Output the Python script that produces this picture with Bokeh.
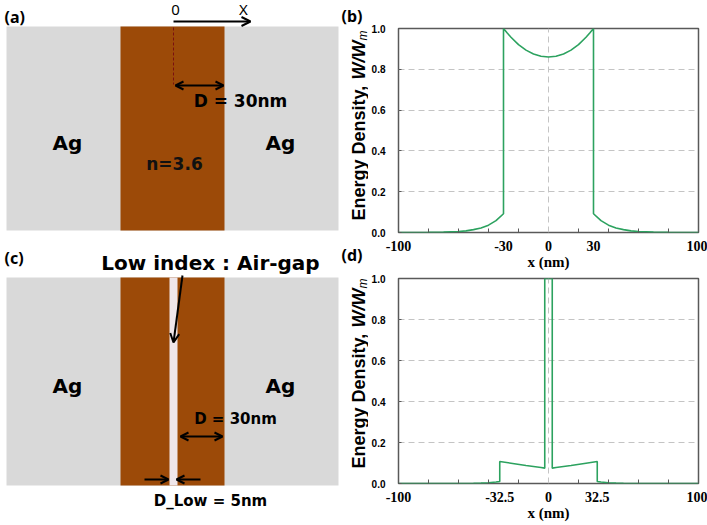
import math
from bokeh.plotting import figure
from bokeh.models import Range1d, Label, Arrow, OpenHead, FixedTicker
from bokeh.layouts import row, column
from bokeh.embed import file_html
from bokeh.resources import INLINE

# ---------------- data ----------------
x_b = [-100, -80, -70, -60, -55, -50, -45, -40, -35, -30, -30, -27.5, -25, -20, -15, -10, -5,
       0, 5, 10, 15, 20, 25, 27.5, 30, 30, 35, 40, 45, 50, 55, 60, 70, 80, 100]
y_b = [0.0, 0.001, 0.002, 0.005, 0.008, 0.014, 0.022, 0.036, 0.058, 0.092, 1.0, 0.978, 0.957, 0.921, 0.894, 0.875, 0.864,
       0.86, 0.864, 0.875, 0.894, 0.921, 0.957, 0.978, 1.0, 0.092, 0.058, 0.036, 0.022, 0.014, 0.008, 0.005, 0.002, 0.001, 0.0]

x_d = [-100, -60, -50, -45, -40, -35, -32.5, -32.5, -25, -15, -5, -2.5, -2.5, 0, 2.5, 2.5,
       5, 15, 25, 32.5, 32.5, 35, 40, 45, 50, 60, 100]
y_d = [0.0, 0.0, 0.001, 0.002, 0.004, 0.007, 0.010, 0.107, 0.099, 0.088, 0.078, 0.075, 1.0, 1.0, 1.0, 0.075,
       0.078, 0.088, 0.099, 0.107, 0.010, 0.007, 0.004, 0.002, 0.001, 0.0, 0.0]

b_xticks = [-100, -30, 0, 30, 100]
b_xlabels = ["-100", "-30", "0", "30", "100"]
d_xticks = [-100, -32.5, 0, 32.5, 100]
d_xlabels = ["-100", "-32.5", "0", "32.5", "100"]
minor_xticks = [-80, -60, -40, -20, 20, 40, 60, 80]
y_ticks = [0.0, 0.2, 0.4, 0.6, 0.8, 1.0]
y_labels = ["0.0", "0.2", "0.4", "0.6", "0.8", "1.0"]

GREEN = "#2ca25f"
AG = "#d9d9d9"
BROWN = "#9c4a08"
GAP = "#efe6ea"
FRAME = "#595959"
SCH_FONT = "DejaVu Sans"
LBL_FONT = "Noto Sans"
LEFT_W = 368
TOP_H = 242


# ---------------- canvas helpers ----------------
def canvas(x0, width, y0, height):
    p = figure(width=width, height=height, x_range=Range1d(x0, x0 + width), y_range=Range1d(y0 + height, y0),
               output_backend="svg", toolbar_location=None, min_border=0,
               x_axis_location=None, y_axis_location=None, outline_line_color=None)
    p.grid.visible = False
    return p


def txt(p, x, y, s, size, font=SCH_FONT, style="bold", color="black", align="center",
        angle=0.0, baseline="middle"):
    p.add_layout(Label(x=x, y=y, text=s, text_font=font, text_font_style=style,
                       text_font_size=f"{size}px", text_color=color, angle=angle,
                       text_align=align, text_baseline=baseline))


def arrow(p, x0, y0, x1, y1, both=False, size=9):
    p.add_layout(Arrow(x_start=x0, y_start=y0, x_end=x1, y_end=y1, line_width=2, line_color="black",
                       end=OpenHead(size=size, line_width=2, line_color="black"),
                       start=OpenHead(size=size, line_width=2, line_color="black") if both else None))


def ylabel(p, base_x, start_y):
    # rotated axis title in pieces: "Energy Density, " + italic "W/W" + subscript "m"
    pieces = [("Energy Density, ", "bold", 18, 0, 141.0),
              ("W/W", "bold italic", 18, 0, 39.0),
              ("m", "italic", 12, 4, 10.0)]
    y = start_y
    for s, st, sz, off, w in pieces:
        txt(p, base_x + off, y, s, sz, font="Liberation Sans", style=st,
            align="left", baseline="alphabetic", angle=math.pi / 2)
        y -= w


# ---------------- (a) + labels of (b) ----------------
a = canvas(0, LEFT_W, 0, TOP_H)
a.quad(left=6, right=338, top=26, bottom=230, fill_color=AG, line_color=None)
a.quad(left=120, right=224, top=26, bottom=230, fill_color=BROWN, line_color=None)
a.segment(x0=173, y0=27, x1=173, y1=84, line_color="#7a1010", line_dash="3 2", line_width=1)
arrow(a, 173, 21, 250, 21)
arrow(a, 175, 85, 223, 85, both=True, size=8)
txt(a, 4, 16, "(a)", 16, font=LBL_FONT, align="left")
txt(a, 175, 9, "0", 15, font=LBL_FONT, style="normal")
txt(a, 243, 8, "X", 15, font=LBL_FONT, style="normal")
txt(a, 240, 100, "D = 30nm", 17)
txt(a, 67, 142, "Ag", 20)
txt(a, 280, 142, "Ag", 20)
txt(a, 174, 163, "n=3.6", 17, color="#111111")
txt(a, 341, 15, "(b)", 16, font=LBL_FONT, align="left")
ylabel(a, 358, 220)

# ---------------- (c) + labels of (d) ----------------
c = canvas(0, LEFT_W, TOP_H, 525 - TOP_H)
c.quad(left=6, right=338, top=277, bottom=485, fill_color=AG, line_color=None)
c.quad(left=120, right=224, top=277, bottom=485, fill_color=BROWN, line_color=None)
c.quad(left=169, right=177, top=277, bottom=485, fill_color=GAP, line_color=None)
txt(c, 4, 257, "(c)", 16, font=LBL_FONT, align="left")
txt(c, 210, 262, "Low index : Air-gap", 20)
arrow(c, 182, 275, 173, 342)
txt(c, 67, 385, "Ag", 20)
txt(c, 280, 385, "Ag", 20)
txt(c, 235, 418, "D = 30nm", 15)
arrow(c, 180, 436, 222, 436, both=True, size=8)
arrow(c, 144, 479, 168, 479, size=8)
arrow(c, 200, 479, 176, 479, size=8)
txt(c, 210, 500, "D_Low = 5nm", 15)
txt(c, 341, 254, "(d)", 16, font=LBL_FONT, align="left")
ylabel(c, 358, 468)


# ---------------- plots ----------------
def plot(xs, ys, xticks, xlabels, height, bt, bb):
    p = figure(width=707 - LEFT_W, height=height, x_range=Range1d(-100, 100), y_range=Range1d(0, 1),
               output_backend="svg", toolbar_location=None,
               min_border_left=28, min_border_right=9, min_border_top=bt, min_border_bottom=bb)
    p.outline_line_color = FRAME
    p.outline_line_width = 1.5
    p.line(xs, ys, line_color=GREEN, line_width=1.6)

    p.xaxis.ticker = FixedTicker(ticks=xticks, minor_ticks=minor_xticks)
    p.xaxis.major_label_overrides = dict(zip(xticks, xlabels))
    p.xaxis.axis_line_color = None
    p.xaxis.major_tick_in = 0
    p.xaxis.major_tick_out = 0
    p.xaxis.minor_tick_in = 4
    p.xaxis.minor_tick_out = 0
    p.xaxis.minor_tick_line_color = FRAME
    p.xaxis.major_label_text_font = "Liberation Serif"
    p.xaxis.major_label_text_font_style = "bold"
    p.xaxis.major_label_text_font_size = "14px"
    p.xaxis.major_label_text_color = "black"
    p.xaxis.major_label_standoff = 8
    p.xaxis.axis_label = "x (nm)"
    p.xaxis.axis_label_text_font = "Liberation Serif"
    p.xaxis.axis_label_text_font_style = "bold"
    p.xaxis.axis_label_text_font_size = "15px"
    p.xaxis.axis_label_text_color = "black"
    p.xaxis.axis_label_standoff = 0

    p.yaxis.ticker = FixedTicker(ticks=y_ticks)
    p.yaxis.major_label_overrides = dict(zip(y_ticks, y_labels))
    p.yaxis.axis_line_color = None
    p.yaxis.major_tick_in = 3
    p.yaxis.major_tick_out = 0
    p.yaxis.major_tick_line_color = FRAME
    p.yaxis.minor_tick_line_color = None
    p.yaxis.major_label_text_font = "Liberation Sans"
    p.yaxis.major_label_text_font_style = "bold"
    p.yaxis.major_label_text_font_size = "10px"
    p.yaxis.major_label_text_color = "black"
    p.yaxis.major_label_standoff = 13

    p.xgrid.ticker = FixedTicker(ticks=[0])
    p.ygrid.ticker = FixedTicker(ticks=[0.2, 0.4, 0.6, 0.8])
    p.grid.grid_line_color = "#c4c4c4"
    p.grid.grid_line_dash = "6 4"
    p.grid.grid_line_width = 1
    return p


b = plot(x_b, y_b, b_xticks, b_xlabels, 272, 28, 40)
d = plot(x_d, y_d, d_xticks, d_xlabels, 253, 6, 42)

layout = row(column(a, c), column(b, d))

open("out.html", "w").write(file_html(layout, INLINE))
